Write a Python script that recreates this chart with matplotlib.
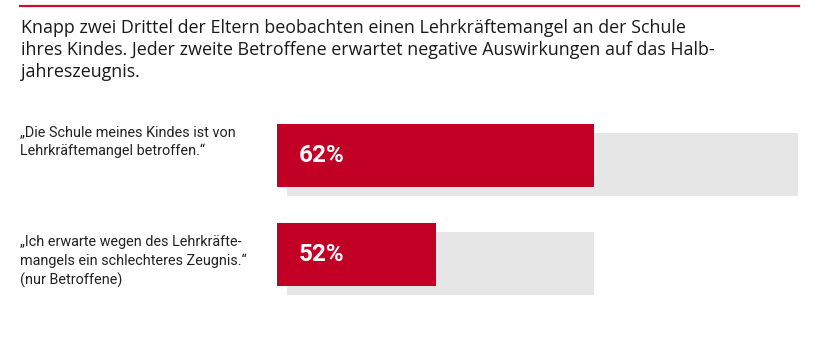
import matplotlib
matplotlib.use("Agg")
import matplotlib.pyplot as plt
import matplotlib.transforms as mtransforms
from matplotlib.lines import Line2D

# data
labels = [
    "\u201eDie Schule meines Kindes ist von\nLehrkr\u00e4ftemangel betroffen.\u201c",
    "\u201eIch erwarte wegen des Lehrkr\u00e4fte-\nmangels ein schlechteres Zeugnis.\u201c\n(nur Betroffene)",
]
values = [62, 52]      # percent of the group
base = [100, 60]       # width of the grey track (scale of the group)
value_text = ["62%", "52%"]
title = ("Knapp zwei Drittel der Eltern beobachten einen Lehrkr\u00e4ftemangel an der Schule\n"
         "ihres Kindes. Jeder zweite Betroffene erwartet negative Auswirkungen auf das Halb-\n"
         "jahreszeugnis.")

RED = "#c20025"
GRAY = "#e6e6e6"

W, H = 820, 360
fig = plt.figure(figsize=(W / 100, H / 100), dpi=100)
fig.patch.set_facecolor("white")

# top rule
fig.add_artist(Line2D([20 / W, 799 / W], [1 - 6 / H, 1 - 6 / H],
                      transform=fig.transFigure, color="#c8102e", lw=1.6))

fig.text(21 / W, 1 - 19 / H, title, ha="left", va="top", fontsize=12.9,
         family=["Open Sans", "DejaVu Sans"], color="#1a1a1a", linespacing=1.28)

ax = fig.add_axes([277 / W, (H - 304) / H, 511 / W, 198 / H])
ax.set_xlim(0, 100)
ax.set_ylim(1.5, -0.5)
ax.axis("off")

rows = list(range(len(values)))
h = 63 / 99
dx, dy = 2.0, 0.095
ax.barh([r + dy for r in rows], base, left=dx, height=h, color=GRAY,
        clip_on=False, zorder=1)
red_w = [v * b / 100 for v, b in zip(values, base)]
ax.barh(rows, red_w, height=h, color=RED, clip_on=False, zorder=2)

for r, t in zip(rows, value_text):
    ax.text(4.2, r, t, ha="left", va="center", color="white", fontsize=17.5,
            fontweight="bold", family=["Roboto", "DejaVu Sans"], zorder=3)

trans = mtransforms.blended_transform_factory(fig.transFigure, ax.transData)
label_dy = [-0.14, 0.07]
for r, lab, ody in zip(rows, labels, label_dy):
    ax.text(20 / W, r + ody, lab, transform=trans, ha="left", va="center",
            fontsize=10.4, family=["Roboto", "DejaVu Sans"],
            color="#222222", linespacing=1.4)

fig.savefig("out.png", dpi=100, facecolor="white")
